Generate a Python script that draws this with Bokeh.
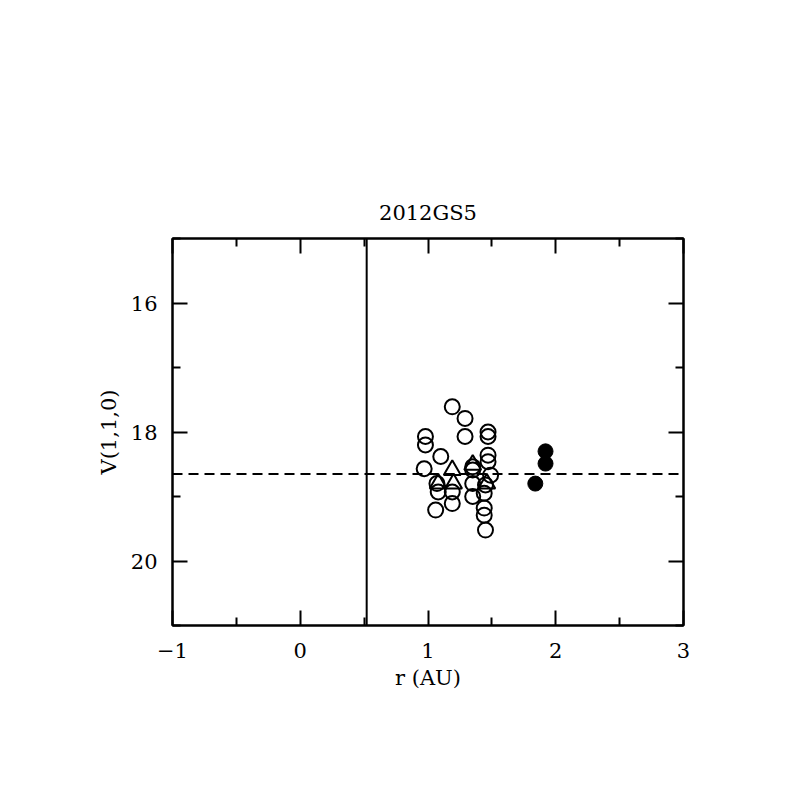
from bokeh.plotting import figure
from bokeh.models import Range1d, LinearAxis, Span, FixedTicker, ColumnDataSource
from bokeh.embed import file_html
from bokeh.resources import INLINE

title = "2012GS5"
x_label = "r (AU)"
y_label = "V(1,1,0)"

# open circles
open_r = [1.19, 1.29, 1.29, 0.98, 0.98, 1.10, 0.97, 1.07, 1.08, 1.06, 1.19, 1.19,
          1.35, 1.35, 1.35, 1.35, 1.47, 1.47, 1.47, 1.47, 1.49, 1.45, 1.44, 1.44, 1.44, 1.45]
open_v = [17.61, 17.79, 18.07, 18.07, 18.20, 18.38, 18.57, 18.80, 18.93, 19.21, 18.93, 19.11,
          18.54, 18.59, 18.80, 19.00, 18.00, 18.07, 18.36, 18.46, 18.67, 18.82, 18.95, 19.18, 19.29, 19.52]
# triangles
tri_r = [1.19, 1.08, 1.20, 1.35, 1.46]
tri_v = [18.59, 18.80, 18.80, 18.51, 18.80]
# filled circles
fill_r = [1.92, 1.92, 1.84]
fill_v = [18.30, 18.49, 18.80]

vline_r = 0.52
hline_v = 18.65

x_ticks = [-1, 0, 1, 2, 3]
x_minor = [-0.5, 0.5, 1.5, 2.5]
y_ticks = [16, 18, 20]
y_minor = [15, 17, 19, 21]

FONT = "DejaVu Serif"

p = figure(width=780, height=780, output_backend="svg", toolbar_location=None,
           x_range=Range1d(-1, 3), y_range=Range1d(21, 15),
           x_axis_location=None, y_axis_location=None,
           min_border_left=172, min_border_right=97, min_border_top=238, min_border_bottom=155)
p.xgrid.visible = False
p.ygrid.visible = False
p.outline_line_color = "black"
p.outline_line_width = 2
p.background_fill_color = "white"
p.border_fill_color = "white"

def style_axis(ax, ticks, minor, labels=True):
    ax.ticker = FixedTicker(ticks=ticks, minor_ticks=minor)
    ax.axis_line_width = 2
    ax.major_tick_line_width = 2
    ax.minor_tick_line_width = 2
    ax.major_tick_in = 15
    ax.major_tick_out = 0
    ax.minor_tick_in = 8
    ax.minor_tick_out = 0
    ax.major_label_text_font = FONT
    ax.major_label_text_font_size = "21px"
    ax.major_label_text_font_style = "normal"
    ax.major_label_text_color = "black" if labels else None
    ax.axis_label_text_font = FONT
    ax.axis_label_text_font_size = "21px"
    ax.axis_label_text_font_style = "normal"
    ax.axis_label_text_color = "black"

xb = LinearAxis(axis_label=x_label)
style_axis(xb, x_ticks, x_minor)
xb.major_label_standoff = 17
xb.axis_label_standoff = 5
xb.major_label_overrides = {-1: "\u22121"}
p.add_layout(xb, "below")

yl = LinearAxis(axis_label=y_label)
style_axis(yl, y_ticks, y_minor)
yl.major_label_standoff = 15
yl.axis_label_standoff = 7
yl.major_label_orientation = "horizontal"
p.add_layout(yl, "left")

xt = LinearAxis()
style_axis(xt, x_ticks, x_minor, labels=False)
xt.major_label_text_font_size = "0px"
xt.major_label_standoff = 0
p.add_layout(xt, "above")

yr = LinearAxis()
style_axis(yr, y_ticks, y_minor, labels=False)
yr.major_label_text_font_size = "0px"
yr.major_label_standoff = 0
p.add_layout(yr, "right")

p.title.text = title
p.title.text_font = FONT
p.title.text_font_size = "21px"
p.title.text_font_style = "normal"
p.title.text_color = "black"
p.title.align = "center"
p.title.standoff = 28

p.add_layout(Span(location=vline_r, dimension="height", line_color="black", line_width=2))
p.add_layout(Span(location=hline_v, dimension="width", line_color="black", line_width=2,
                  line_dash="10 6"))

src_o = ColumnDataSource(dict(x=open_r, y=open_v))
src_t = ColumnDataSource(dict(x=tri_r, y=tri_v))
src_f = ColumnDataSource(dict(x=fill_r, y=fill_v))
p.scatter("x", "y", source=src_o, marker="circle", size=15, fill_color=None,
          line_color="black", line_width=2)
p.scatter("x", "y", source=src_t, marker="triangle", size=17, fill_color=None,
          line_color="black", line_width=2)
p.scatter("x", "y", source=src_f, marker="circle", size=15, fill_color="black",
          line_color="black", line_width=1)

open("out.html", "w").write(file_html(p, INLINE))
